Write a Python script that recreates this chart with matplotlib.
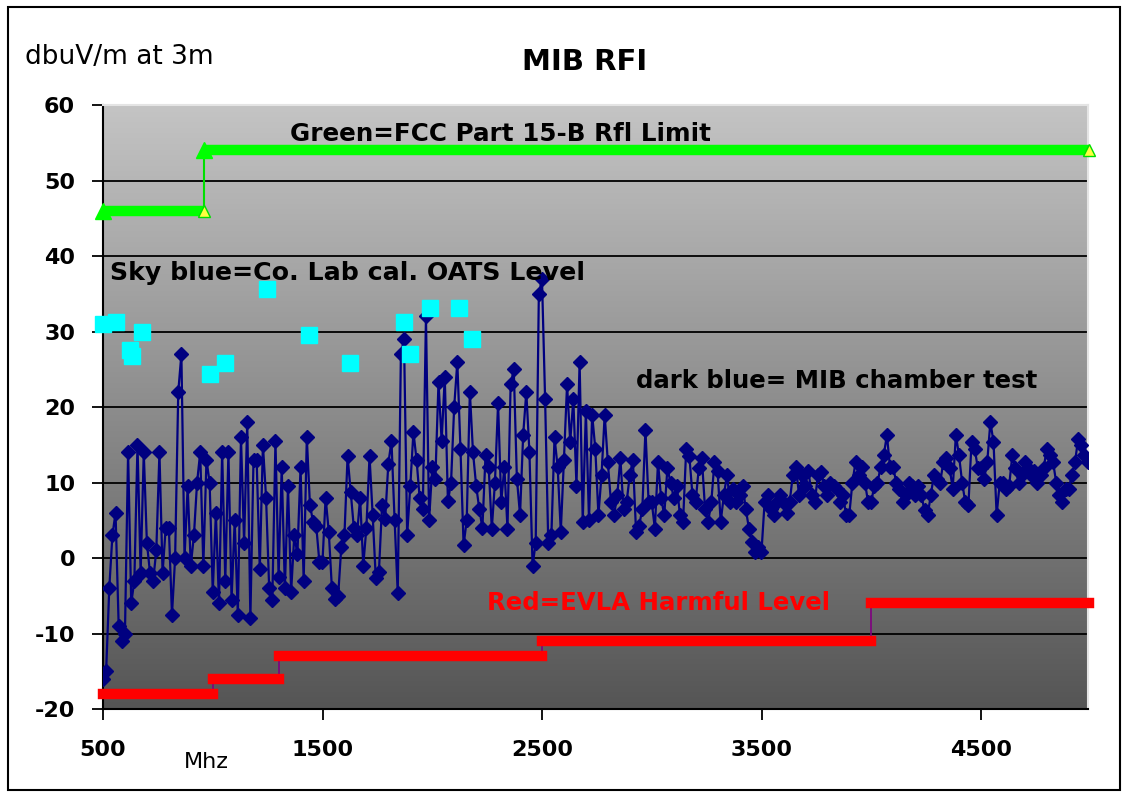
import numpy as np
import matplotlib
matplotlib.use('Agg')
import matplotlib.pyplot as plt
from matplotlib.patches import Rectangle
from matplotlib.colors import LinearSegmentedColormap

plt.rcParams['axes.unicode_minus'] = False

# ---------------- data ----------------
# MIB chamber test (dark blue), sweep 500 .. 4985 MHz, dBuV/m
mib_levels = [
    -16, -15, -4, 3, 6, -9, -11,
    -10, 14, -6, -3, 15, -2, 14,
    2, -2, -3, 1, 14, -2, 4,
    4, -7.5, 0, 22, 27, 0, 9.5,
    -1, 3, 10, 14, -1, 13, 10,
    -4.5, 6, -6, 14, -3, 14, -5.5,
    5, -7.5, 16, 2, 18, -8, 13,
    13, -1.5, 15, 8, -4, -5.5, 15.5,
    -2.5, 12, -4, 9.5, -4.5, 3, 0.5,
    12, -3, 16, 7, 4.8, 4.3, -0.5,
    -0.5, 8, 3.5, -4, -5.4, -5, 1.5,
    3, 13.5, 8.8, 4, 3, 8, -1,
    4, 13.5, 5.7, -2.7, -1.8, 7, 5.2,
    12.5, 15.5, 5, -4.7, 27, 29, 3,
    9.5, 16.7, 13, 7.9, 6.5, 32, 5,
    12, 10.5, 23.3, 15.5, 24, 7.5, 10,
    20, 26, 14.5, 1.7, 5, 22, 14,
    9.6, 6.5, 4, 13.6, 12, 3.9, 10,
    20.5, 7.4, 12, 3.9, 23, 25, 10.5,
    5.7, 16.3, 22, 14, -1, 2, 35,
    37, 21, 2, 3, 16, 12, 3.5,
    13, 23, 15.4, 21, 9.6, 26, 4.8,
    19.5, 5, 19, 14.5, 5.7, 11, 19,
    12.7, 7.4, 5.7, 8.3, 13.2, 6.5, 7.4,
    11, 13, 3.5, 4.3, 6.5, 17, 7.4,
    7.4, 3.9, 12.7, 7.9, 5.7, 11.9, 10,
    8, 9.6, 5.7, 4.8, 14.5, 13.5, 8.3,
    7.4, 11.9, 13.2, 6.5, 4.8, 7.4, 12.7,
    11.5, 4.8, 8.3, 11, 7.4, 9.2, 7.4,
    8.3, 9.6, 6.5, 3.9, 2.1, 0.8, 1.5,
    0.8, 7.4, 8.3, 6.5, 5.7, 7.4, 8.3,
    7.4, 6, 7.4, 11, 12, 8.3, 11,
    9.6, 11.5, 8.3, 7.4, 11, 11.4, 9.6,
    8.3, 10, 9.6, 9.2, 7.4, 8.3, 5.7,
    5.7, 10, 12.7, 11, 12, 10, 7.4,
    7.4, 9.6, 10, 12, 13.6, 16.3, 12,
    12, 10, 9.2, 7.4, 8.3, 10, 9.6,
    8.3, 9.6, 8.3, 6.3, 5.7, 8.3, 11,
    10.5, 10, 12.7, 13.2, 11.9, 9.2, 16.3,
    13.6, 10, 7.4, 7, 15.4, 14.5, 11.9,
    11.9, 10.5, 12.7, 18, 15.4, 5.7, 10,
    10, 9.2, 9.6, 13.6, 11.9, 10, 11,
    12.7, 11.9, 11, 11.5, 10, 11, 11.9,
    14.5, 13.6, 12.7, 10, 8.3, 7.4, 9.2,
    9.2, 11, 12.7, 15.8, 15, 13.6, 12.7,
]
mib_start_mhz = 500
mib_stop_mhz = 4985

# Co. Lab calibrated OATS level (sky blue)
oats_freq = [500, 561, 622, 630, 676, 989, 1057, 1248, 1439,
             1627, 1871, 1897, 1990, 2123, 2181]
oats_level = [31.0, 31.2, 27.5, 26.8, 29.9, 24.4, 25.8, 35.6, 29.5,
              25.8, 31.2, 27.0, 33.1, 33.1, 29.0]

# FCC Part 15-B limit (green)
fcc_edges = [500, 960, 4990]
fcc_levels = [46, 54]

# EVLA harmful level (red)
evla_edges = [500, 1000, 1300, 2500, 4000, 4990]
evla_levels = [-18, -16, -13, -11, -6]

xtick_values = [500, 1500, 2500, 3500, 4500]
ytick_values = [-20, -10, 0, 10, 20, 30, 40, 50, 60]

# ---------------- figure ----------------
W, H = 1128, 796
fig = plt.figure(figsize=(W / 100, H / 100), dpi=100)
fig.patch.set_facecolor('white')

x0, x1, ytop, ybot = 103, 1088, 105, 709
ax = fig.add_axes([x0 / W, 1 - ybot / H, (x1 - x0) / W, (ybot - ytop) / H])
xmin, xmax = 500, 4987
ax.set_xlim(xmin, xmax)
ax.set_ylim(-20, 60)

# gradient plot area
cmap = LinearSegmentedColormap.from_list('bg', ['#c4c4c4', '#555555'])
ax.imshow(np.linspace(0, 1, 256).reshape(-1, 1), cmap=cmap, origin='upper',
          extent=[xmin, xmax, -20, 60], aspect='auto', zorder=0)

for y in ytick_values[1:-1]:
    ax.axhline(y, color='black', lw=1.3, zorder=1)

# red EVLA steps
for i, lvl in enumerate(evla_levels):
    ax.plot([evla_edges[i], evla_edges[i + 1]], [lvl, lvl], color='#ff0000',
            lw=7.5, solid_capstyle='projecting', zorder=3, clip_on=False)
    if i + 1 < len(evla_levels):
        ax.plot([evla_edges[i + 1]] * 2, [lvl, evla_levels[i + 1]],
                color='#800080', lw=1.2, zorder=2)

# green FCC steps
for i, lvl in enumerate(fcc_levels):
    ax.plot([fcc_edges[i], fcc_edges[i + 1]], [lvl, lvl], color='#00ff00',
            lw=7.5, solid_capstyle='butt', zorder=3, clip_on=False)
ax.plot([fcc_edges[1]] * 2, [fcc_levels[0], fcc_levels[1]], color='#00e000',
        lw=1.5, zorder=2)
ax.plot([fcc_edges[0], fcc_edges[1]], [fcc_levels[0], fcc_levels[1]],
        ls='none', marker='^', ms=12, color='#00ff00', zorder=3,
        clip_on=False)
ax.plot([fcc_edges[1], fcc_edges[2]], [fcc_levels[0], fcc_levels[1]],
        ls='none', marker='^', ms=8, mfc='#ffff40', mec='#00dd00', zorder=3,
        clip_on=False)

# dark blue MIB chamber data
mib_freq = np.linspace(mib_start_mhz, mib_stop_mhz, len(mib_levels))
ax.plot(mib_freq, mib_levels, color='#000080', lw=1.6, marker='D', ms=7,
        mfc='#000080', mec='#000080', zorder=4)

# sky blue OATS points
ax.plot(oats_freq, oats_level, ls='none', marker='s', ms=11,
        color='#00ffff', mec='#00ffff', zorder=5, clip_on=False)

# annotations
ax.text(1352, 56.2, 'Green=FCC Part 15-B Rfl Limit', fontsize=17.7,
        fontweight='bold', ha='left', va='center', zorder=6)
ax.text(530, 37.8, 'Sky blue=Co. Lab cal. OATS Level', fontsize=18.2,
        fontweight='bold', ha='left', va='center', zorder=6)
ax.text(2928, 23.5, 'dark blue= MIB chamber test', fontsize=17.6,
        fontweight='bold', ha='left', va='center', zorder=6)
ax.text(2250, -5.9, 'Red=EVLA Harmful Level', fontsize=17.6,
        fontweight='bold', color='#ff0000', ha='left', va='center', zorder=6)

# axes styling
ax.set_xticks(xtick_values)
ax.set_yticks(ytick_values)
ax.tick_params(axis='both', direction='out', length=8, width=1.3,
               color='black', labelsize=16)
ax.tick_params(axis='x', pad=14)
ax.tick_params(axis='y', pad=12)
for lab in ax.get_xticklabels() + ax.get_yticklabels():
    lab.set_fontweight('bold')
for side in ['left', 'bottom']:
    ax.spines[side].set_color('black')
    ax.spines[side].set_linewidth(1.5)
for side in ['top', 'right']:
    ax.spines[side].set_color('#e4e4e4')
    ax.spines[side].set_linewidth(1.5)

fig.text(206 / W, 1 - 762 / H, 'Mhz', fontsize=16, ha='center', va='center')
fig.text(585 / W, 1 - 62 / H, 'MIB RFI', fontsize=21, fontweight='bold',
         ha='center', va='center')
fig.text(25 / W, 1 - 57 / H, 'dbuV/m at 3m', fontsize=19, ha='left',
         va='center')

# outer border
fig.patches.append(Rectangle((8 / W, 6 / H), (1120 - 8) / W, (789 - 6) / H,
                             transform=fig.transFigure, fill=False,
                             ec='black', lw=1.5))

fig.savefig('out.png', dpi=100)
